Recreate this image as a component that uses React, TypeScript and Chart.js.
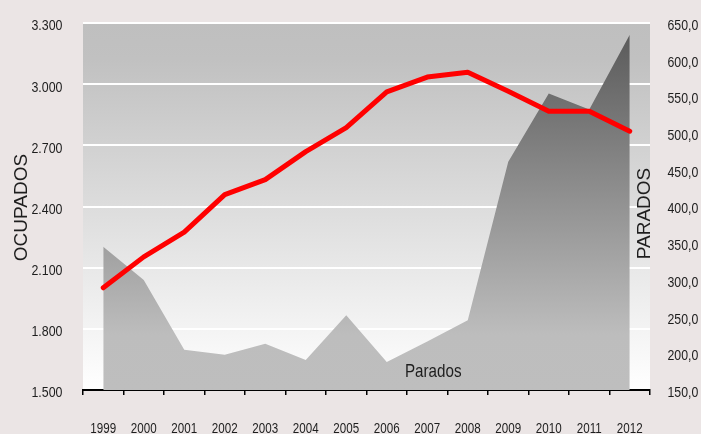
import React, { useEffect, useRef } from "react";
import { Chart, registerables } from "chart.js";

Chart.register(...registerables);

const years = ["1999", "2000", "2001", "2002", "2003", "2004", "2005", "2006", "2007", "2008", "2009", "2010", "2011", "2012"];
const ocupados = [2001, 2153, 2274, 2458, 2532, 2669, 2787, 2962, 3035, 3058, 2965, 2867, 2867, 2769];
const parados = [345, 300, 205, 198, 213, 191, 252, 188, 216, 245, 461, 554, 532, 634];
const leftMin = 1500;
const leftMax = 3300;
const leftStep = 300;
const rightMin = 150;
const rightMax = 650;
const rightStep = 50;
const leftTitle = "OCUPADOS";
const rightTitle = "PARADOS";
const areaLabel = "Parados";
const areaLabelIndex = 8; // placed under 2007

const SANS = "'Liberation Sans', Arial, sans-serif";
const PAGE_BG = "#ebe5e5";
const TEXT = "#1e1e1e";
const SQUEEZE = 0.8;

const fmtLeft = (v: number) => String(Math.round(v)).replace(/\B(?=(\d{3})+(?!\d))/g, ".");
const fmtRight = (v: number) => v.toFixed(1).replace(".", ",");

function squeezedText(ctx: any, text: string, x: number, y: number, align: string, size: number) {
  ctx.save();
  ctx.translate(x, y);
  ctx.scale(SQUEEZE, 1);
  ctx.fillStyle = TEXT;
  ctx.textAlign = align;
  ctx.textBaseline = "alphabetic";
  ctx.font = `${size}px ${SANS}`;
  ctx.fillText(text, 0, 0);
  ctx.restore();
}

const decorPlugin = {
  id: "decor",
  beforeDraw(chart: any) {
    const { ctx, chartArea } = chart;
    const { left, right, top, bottom } = chartArea;
    ctx.save();
    ctx.fillStyle = PAGE_BG;
    ctx.fillRect(0, 0, chart.width, chart.height);
    const g = ctx.createLinearGradient(0, top, 0, bottom);
    g.addColorStop(0, "#bfbfbf");
    g.addColorStop(0.1, "#c1c1c1");
    g.addColorStop(1, "#ffffff");
    ctx.fillStyle = g;
    ctx.fillRect(left, top, right - left, bottom - top);
    ctx.restore();
  },
  afterDraw(chart: any) {
    const { ctx, chartArea, scales } = chart;

    scales.y.ticks.forEach((t: any) => {
      const py = scales.y.getPixelForValue(t.value);
      squeezedText(ctx, fmtLeft(t.value), chartArea.left - 20.5, py + 7.4, "right", 15.5);
    });
    scales.y2.ticks.forEach((t: any) => {
      const py = scales.y2.getPixelForValue(t.value);
      squeezedText(ctx, fmtRight(t.value), chartArea.right + 17.5, py + 6.9, "left", 15.4);
    });
    const meta = chart.getDatasetMeta(1);
    years.forEach((lab, i) => {
      const px = meta.data[i] ? meta.data[i].x : scales.x.getPixelForTick(i);
      squeezedText(ctx, lab, px, 433, "center", 14.5);
    });

    ctx.save();
    ctx.fillStyle = TEXT;
    ctx.textAlign = "center";
    ctx.textBaseline = "middle";
    ctx.font = `19px ${SANS}`;
    ctx.translate(21.5, (chartArea.top + chartArea.bottom) / 2 + 1);
    ctx.rotate(-Math.PI / 2);
    ctx.fillText(leftTitle, 0, 0);
    ctx.restore();

    ctx.save();
    ctx.fillStyle = TEXT;
    ctx.textAlign = "center";
    ctx.textBaseline = "middle";
    ctx.font = `19px ${SANS}`;
    ctx.translate(chartArea.right - 5.5, (chartArea.top + chartArea.bottom) / 2 + 7);
    ctx.rotate(-Math.PI / 2);
    ctx.fillText(rightTitle, 0, 0);
    ctx.restore();

    const lx = meta.data[areaLabelIndex] ? meta.data[areaLabelIndex].x : scales.x.getPixelForTick(areaLabelIndex);
    squeezedText(ctx, areaLabel, lx + 6, chartArea.bottom - 13.5, "center", 19);
  },
};

export default function App() {
  const ref = useRef<HTMLCanvasElement | null>(null);

  useEffect(() => {
    document.body.style.margin = "0";
    document.body.style.background = PAGE_BG;
    const canvas = ref.current;
    if (!canvas) return;
    const chart = new Chart(canvas, {
      type: "line",
      data: {
        labels: years,
        datasets: [
          {
            label: "Ocupados",
            data: ocupados,
            yAxisID: "y",
            borderColor: "#ff0000",
            borderWidth: 5,
            borderJoinStyle: "round",
            borderCapStyle: "round",
            pointRadius: 0,
            tension: 0,
            fill: false,
            order: 0,
          },
          {
            label: "Parados",
            data: parados,
            yAxisID: "y2",
            borderWidth: 0,
            borderColor: "rgba(0,0,0,0)",
            pointRadius: 0,
            tension: 0,
            fill: "start",
            order: 1,
            backgroundColor: (c: any) => {
              const ca = c.chart.chartArea;
              if (!ca) return "#bdbdbd";
              const g = c.chart.ctx.createLinearGradient(0, ca.top, 0, ca.bottom);
              g.addColorStop(0, "#575757");
              g.addColorStop(0.85, "#bdbdbd");
              g.addColorStop(1, "#bebebe");
              return g;
            },
          },
        ],
      },
      options: {
        responsive: false,
        animation: false,
        devicePixelRatio: 1,
        layout: { padding: { top: 23, left: 0, right: 0, bottom: 0 } },
        plugins: {
          legend: { display: false },
          tooltip: { enabled: false },
          title: { display: false },
        },
        scales: {
          x: {
            type: "category",
            offset: true,
            grid: {
              offset: true,
              drawOnChartArea: false,
              drawTicks: true,
              tickLength: 5,
              color: "#000",
              lineWidth: 1.5,
            },
            border: { display: true, color: "#000", width: 2 },
            ticks: { display: false, autoSkip: false, maxRotation: 0 },
            afterFit: (s: any) => {
              s.height = 44;
            },
          },
          y: {
            type: "linear",
            position: "left",
            min: leftMin,
            max: leftMax,
            grid: {
              drawTicks: false,
              color: (c: any) => (c.tick && c.tick.value === leftMin ? "rgba(0,0,0,0)" : "#ffffff"),
              lineWidth: 2,
            },
            border: { display: false },
            ticks: { display: false, stepSize: leftStep },
            afterFit: (s: any) => {
              s.width = 83;
            },
          },
          y2: {
            type: "linear",
            position: "right",
            min: rightMin,
            max: rightMax,
            grid: { display: false, drawTicks: false },
            border: { display: false },
            ticks: { display: false, stepSize: rightStep },
            afterFit: (s: any) => {
              s.width = 51;
            },
          },
        },
      } as any,
      plugins: [decorPlugin],
    });
    return () => chart.destroy();
  }, []);

  return (
    <div style={{ position: "fixed", left: 0, top: 0, width: 701, height: 434, background: PAGE_BG }}>
      <canvas ref={ref} width={701} height={434} style={{ display: "block", width: 701, height: 434 }} />
    </div>
  );
}
